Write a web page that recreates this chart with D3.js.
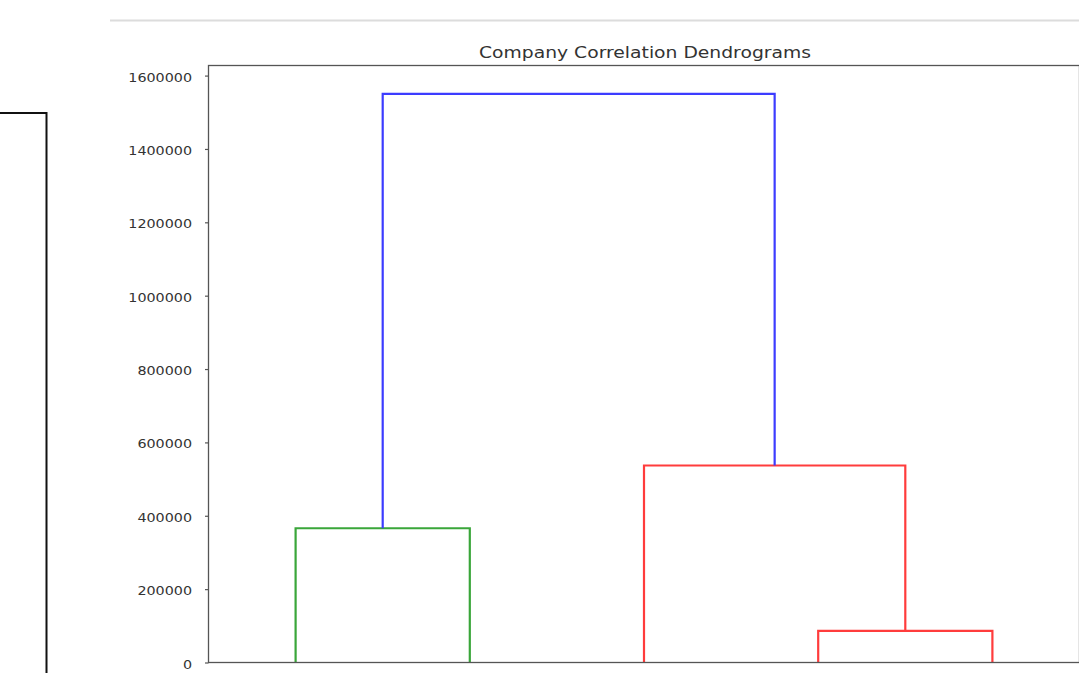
<!DOCTYPE html>
<html>
<head>
<meta charset="utf-8">
<script src="https://cdn.jsdelivr.net/npm/d3@7"></script>
<style>
  html, body { margin: 0; padding: 0; background: #fff; }
  svg { display: block; }
</style>
</head>
<body>
<svg id="chart" width="1079" height="673"></svg>
<script>
// Leaves in dendrogram order (ids 0..4)
const leafIds = [0, 1, 2, 3, 4];
// Linkage rows: [left child, right child, merge distance]; new cluster ids start at 5
const mergeLeft = [0, 3, 2, 5];
const mergeRight = [1, 4, 6, 7];
const mergeHeights = [366000, 86000, 537000, 1550000];
const mergeColors = ["#3aa63a", "#ff3c3c", "#ff3c3c", "#3c3cff"];
const yTicks = [0, 200000, 400000, 600000, 800000, 1000000, 1200000, 1400000, 1600000];
const chartTitle = "Company Correlation Dendrograms";

const svg = d3.select("#chart");
const margin = { left: 208.5, right: 1079.5, top: 65.5, bottom: 662.5 };

const x = d3.scaleLinear().domain([0, leafIds.length * 10]).range([margin.left, margin.right]);
const yMax = d3.max(mergeHeights) * 1.05;
const y = d3.scaleLinear().domain([0, yMax]).range([margin.bottom, margin.top]);

// decorative frame pieces around the figure
svg.append("line").attr("x1", 110).attr("x2", 1079).attr("y1", 20.5).attr("y2", 20.5)
  .attr("stroke", "#dcdcdc").attr("stroke-width", 2);
svg.append("path").attr("d", "M0,113 H46.5 V673").attr("fill", "none")
  .attr("stroke", "#111").attr("stroke-width", 2);

// Node positions: leaves at 5, 15, 25, ...; clusters at midpoint of children
const nodeX = {}, nodeY = {};
leafIds.forEach((id, i) => { nodeX[id] = 5 + 10 * i; nodeY[id] = 0; });
mergeHeights.forEach((h, i) => {
  const id = leafIds.length + i;
  const a = mergeLeft[i], b = mergeRight[i];
  nodeX[id] = (nodeX[a] + nodeX[b]) / 2;
  nodeY[id] = h;
});

const links = svg.append("g").attr("fill", "none").attr("stroke-width", 2.2)
  .attr("stroke-linejoin", "miter");
mergeHeights.forEach((h, i) => {
  const a = mergeLeft[i], b = mergeRight[i];
  const p = d3.path();
  p.moveTo(x(nodeX[a]), y(nodeY[a]));
  p.lineTo(x(nodeX[a]), y(h));
  p.lineTo(x(nodeX[b]), y(h));
  p.lineTo(x(nodeX[b]), y(nodeY[b]));
  links.append("path").attr("d", p.toString()).attr("stroke", mergeColors[i]);
});

// axes frame
svg.append("rect")
  .attr("x", margin.left).attr("y", margin.top)
  .attr("width", margin.right - margin.left).attr("height", margin.bottom - margin.top)
  .attr("fill", "none").attr("stroke", "#555").attr("stroke-width", 1.3);

const yAxis = d3.axisLeft(y).tickValues(yTicks).tickSize(3.5).tickPadding(13)
  .tickFormat(d3.format("d"));
const gy = svg.append("g").attr("transform", `translate(${margin.left},0)`).call(yAxis);
gy.select(".domain").remove();
gy.selectAll(".tick line").attr("stroke", "#555").attr("stroke-width", 1.2);
gy.selectAll(".tick text").attr("fill", "#333")
  .attr("y", 1.5)
  .attr("textLength", d => String(d).length * 9.1)
  .attr("lengthAdjust", "spacingAndGlyphs")
  .style("font-family", "'DejaVu Sans', sans-serif").style("font-size", "12.5px");

svg.append("text").attr("x", 645).attr("y", 57.5)
  .attr("text-anchor", "middle").attr("fill", "#333")
  .attr("textLength", 332).attr("lengthAdjust", "spacingAndGlyphs")
  .style("font-family", "'DejaVu Sans', sans-serif").style("font-size", "15.5px")
  .text(chartTitle);
</script>
</body>
</html>
